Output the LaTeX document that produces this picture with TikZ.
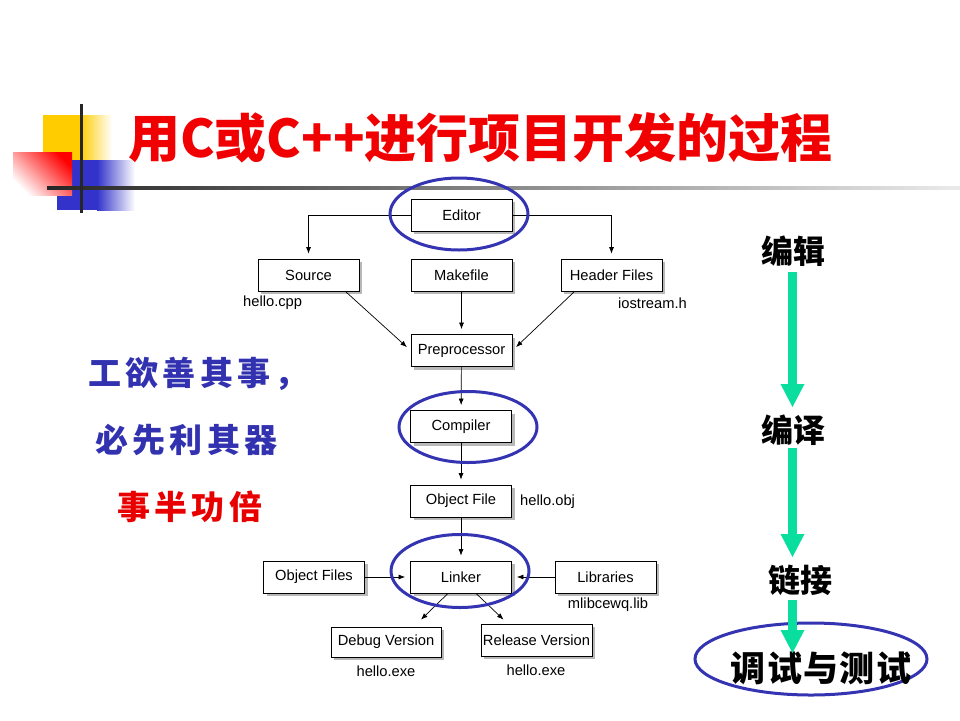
\documentclass[tikz,border=0pt]{standalone}
\usepackage{fontspec}
\setmainfont{Liberation Sans}
\newfontfamily\cjk{Noto Sans CJK SC}
\usetikzlibrary{arrows.meta,shadows,calc,shapes.geometric}
\definecolor{decoyellow}{HTML}{FFCC00}
\definecolor{decoblue}{HTML}{3333CC}
\definecolor{titlered}{HTML}{F00000}
\definecolor{textblue}{HTML}{3232B0}
\definecolor{textred}{HTML}{E80000}
\definecolor{ovalblue}{HTML}{3434B2}
\definecolor{arrowgreen}{RGB}{10,222,158}
\begin{document}
\begin{tikzpicture}[x=1pt,y=-1pt,
  box/.style={draw=black, line width=0.8pt, fill=white, minimum width=101pt,
    minimum height=32pt, inner sep=0pt, font=\fontsize{14.7}{17}\selectfont,
    drop shadow={shadow xshift=3pt,shadow yshift=-3pt,fill=black!28,opacity=1}},
  lbl/.style={inner sep=0pt, font=\fontsize{14.7}{17}\selectfont},
  arr/.style={-{Latex[length=6.5pt,width=5pt]}, line width=0.7pt, shorten >=5pt},
  arrx/.style={-{Latex[length=6.5pt,width=5pt]}, line width=0.7pt},
  oval/.style={ellipse, draw=ovalblue, line width=3pt, inner sep=0pt},
  proverb/.style={inner sep=0pt, anchor=base west,
    font=\cjk\bfseries\fontsize{33}{36}\selectfont\addfontfeature{LetterSpace=13}},
  stage/.style={inner sep=0pt, anchor=base, text=black,
    font=\cjk\bfseries\fontsize{32}{36}\selectfont},
  garrow/.style={draw=arrowgreen, line width=9pt,
    -{Triangle[length=23pt,width=24pt,line width=0pt]}}
]
\useasboundingbox (0,0) rectangle (960,720);
% decoration top left
\fill[decoyellow] (43,115) rectangle (80,160);
\shade[left color=decoyellow, right color=white] (80,115) rectangle (112,160);
\fill[decoblue] (57,160) rectangle (97,210);
\shade[left color=decoblue, right color=white] (97,160) rectangle (135,210);
\shade[shading=axis, top color=red, bottom color=white, shading angle=-45] (13,152) rectangle (72,195);
\shade[left color=black!85, right color=black!8] (47,186.5) rectangle (960,189.5);
\draw[line width=3pt, black!85] (81,104) -- (81,213);
% title
\node[inner sep=0pt, anchor=base, text=titlered, font=\cjk\bfseries\fontsize{52}{60}\selectfont] (title) at (480.5,157) {用C或C++进行项目开发的过程};
% proverb
\node[proverb, text=textblue] (p1) at (88,385) {工欲善其事，};
\node[proverb, text=textblue] (p2) at (95,452) {必先利其器};
\node[proverb, text=textred] (p3) at (117,519) {事半功倍};
% boxes
\node[box] (editor) at (461.5,215) {Editor};
\node[box] (source) at (308.5,275) {Source};
\node[box] (makefile) at (461.5,275) {Makefile};
\node[box] (header) at (611.5,275) {Header Files};
\node[box] (prep) at (461.5,350.5) {Preprocessor};
\node[box] (compiler) at (461,426.5) {Compiler};
\node[box] (objfile) at (461,501) {Object File};
\node[box] (linker) at (461,577) {Linker};
\node[box] (objfiles) at (314,577) {Object Files};
\node[box] (libs) at (605.5,577) {Libraries};
\node[box, minimum width=110pt, minimum height=30pt] (debug) at (386,642) {Debug Version};
\node[box, minimum width=111pt] (release) at (536.5,640) {Release Version};
% labels
\node[lbl, anchor=west] (lcpp) at (243,303) {hello.cpp};
\node[lbl, anchor=east] (lh) at (687,303) {iostream.h};
\node[lbl, anchor=west] (lobj) at (520,502) {hello.obj};
\node[lbl] (llib) at (608,605) {mlibcewq.lib};
\node[lbl] (lexe1) at (386,671) {hello.exe};
\node[lbl] (lexe2) at (536,670) {hello.exe};
% connectors
\draw[arr] (editor.west) -| (source.north);
\draw[arr] (editor.east) -| (header.north);
\draw[arr] (makefile) -- (prep);
\draw[arr] ([xshift=-14pt]source.south east) -- (prep.west);
\draw[arr] ([xshift=14pt]header.south west) -- (prep.east);
\draw[arr] (prep) -- (compiler);
\draw[arr] (compiler) -- (objfile);
\draw[arr] (objfile) -- (linker);
\draw[arr] (objfiles) -- (linker);
\draw[arr] (libs) -- (linker);
\draw[arrx] ([xshift=-13pt]linker.south) -- ([xshift=35pt,yshift=7pt]debug.north);
\draw[arrx] ([xshift=15pt]linker.south) -- ([xshift=-33pt,yshift=4pt]release.north);
% ovals
\node[oval, minimum width=138pt, minimum height=72pt] (oeditor) at (459,214) {};
\node[oval, minimum width=138pt, minimum height=71pt] (ocompiler) at (468,427) {};
\node[oval, minimum width=138pt, minimum height=73pt] (olinker) at (460,571) {};
% right side stages
\node[stage] (bianji) at (793,263) {编辑};
\node[stage] (bianyi) at (793,442) {编译};
\node[stage] (lianjie) at (800,592) {链接};
\node[oval, minimum width=232pt, minimum height=72pt] (testoval) at (811,659) {};
\node[stage, font=\cjk\bfseries\fontsize{35}{38}\selectfont\addfontfeature{LetterSpace=4}] (test) at (821,681) {调试与测试};
\draw[garrow] ([xshift=-0.5pt,yshift=-9pt]bianji.base) -- ([xshift=-0.5pt,yshift=35pt]bianyi.base);
\draw[garrow] ([xshift=-0.5pt,yshift=-6pt]bianyi.base) -- ([xshift=-7.5pt,yshift=35pt]lianjie.base);
\draw[garrow] ([xshift=-7.5pt,yshift=-8pt]lianjie.base) -- ([xshift=-18.5pt,yshift=6pt]testoval.center);
\end{tikzpicture}
\end{document}
